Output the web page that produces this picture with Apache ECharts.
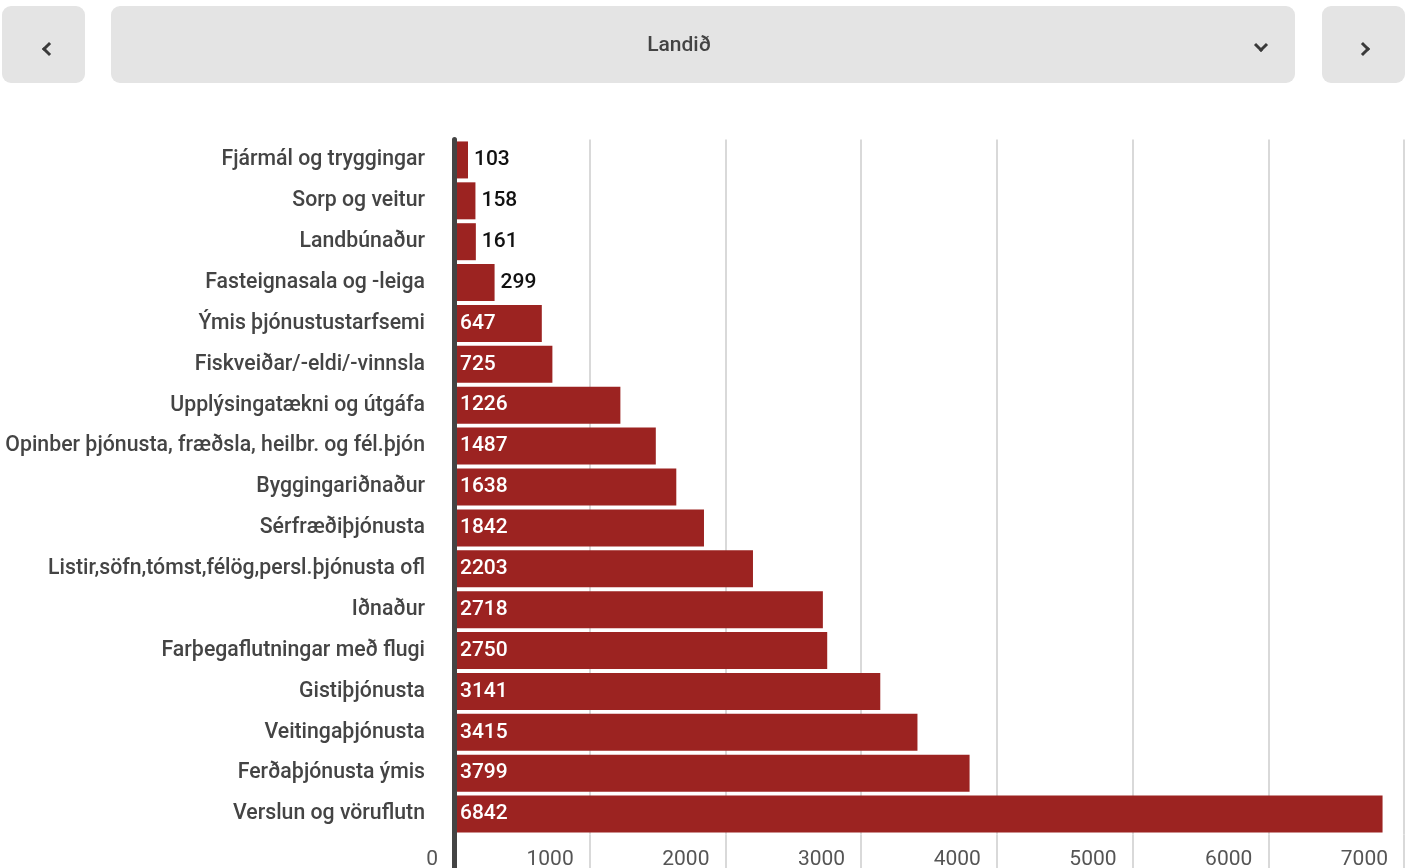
<!DOCTYPE html>
<html>
<head>
<meta charset="utf-8">
<script src="https://cdn.jsdelivr.net/npm/echarts@6/dist/echarts.min.js"></script>
<style>
html,body{margin:0;padding:0;background:#fff;width:1407px;height:868px;overflow:hidden;font-family:Roboto,"Noto Sans",sans-serif;}
#chart{position:absolute;left:0;top:0;width:1407px;height:868px;}
.btn{position:absolute;top:6px;height:77px;background:#e4e4e4;border-radius:9px;}
.chev{position:absolute;width:10px;height:10px;border-left:3px solid #3a3a3a;border-bottom:3px solid #3a3a3a;box-sizing:border-box;}
#title{position:absolute;left:0;width:1136px;top:26px;text-align:center;font-size:21px;font-weight:500;color:#444;}
</style>
</head>
<body>
<div id="chart"></div>
<div class="btn" style="left:2px;width:83px;"><div class="chev" style="left:41.5px;top:38px;transform:rotate(45deg);"></div></div>
<div class="btn" style="left:111px;width:1184px;"><div id="title">Landið</div><div class="chev" style="left:1144.5px;top:34px;transform:rotate(-45deg);"></div></div>
<div class="btn" style="left:1322px;width:83px;"><div class="chev" style="left:35.5px;top:38px;transform:rotate(-135deg);"></div></div>
<script>
const categories = [
  "Fjármál og tryggingar",
  "Sorp og veitur",
  "Landbúnaður",
  "Fasteignasala og -leiga",
  "Ýmis þjónustustarfsemi",
  "Fiskveiðar/-eldi/-vinnsla",
  "Upplýsingatækni og útgáfa",
  "Opinber þjónusta, fræðsla, heilbr. og fél.þjón",
  "Byggingariðnaður",
  "Sérfræðiþjónusta",
  "Listir,söfn,tómst,félög,persl.þjónusta ofl",
  "Iðnaður",
  "Farþegaflutningar með flugi",
  "Gistiþjónusta",
  "Veitingaþjónusta",
  "Ferðaþjónusta ýmis",
  "Verslun og vöruflutn"
];
const values = [103, 158, 161, 299, 647, 725, 1226, 1487, 1638, 1842, 2203, 2718, 2750, 3141, 3415, 3799, 6842];
const xTicks = { min: 0, max: 7000, interval: 1000 };

const barColor = '#9c2321';
const seriesData = values.map(v => ({
  value: v,
  label: v < 450
    ? { position: 'right', color: '#111', distance: 6 }
    : { position: 'insideLeft', color: '#fff', distance: 6 }
}));

const chart = echarts.init(document.getElementById('chart'));
chart.setOption({
  animation: false,
  grid: [
    { left: 454, right: 3, top: 139.5, height: 695, containLabel: false },
    { left: 454, right: 3, top: 834.5, bottom: 0, containLabel: false, outerBoundsMode: 'none' }
  ],
  xAxis: [
    {
      gridIndex: 0, type: 'value', min: xTicks.min, max: xTicks.max, interval: xTicks.interval,
      axisLine: { show: false }, axisTick: { show: false }, axisLabel: { show: false },
      splitLine: { show: true, lineStyle: { color: '#d9d9d9', width: 2 } }
    },
    {
      gridIndex: 1, type: 'value', min: xTicks.min, max: xTicks.max, interval: xTicks.interval,
      axisLine: { show: false }, axisTick: { show: false },
      axisLabel: {
        show: true, inside: true, margin: 19, align: 'right', verticalAlign: 'top', padding: [0, 16, 0, 0],
        formatter: v => String(v),
        fontFamily: 'Roboto', fontSize: 21, color: '#555', showMinLabel: true, showMaxLabel: true
      },
      splitLine: { show: true, lineStyle: { color: '#d9d9d9', width: 2 } }
    }
  ],
  yAxis: [
    {
      gridIndex: 0, type: 'category', data: categories, inverse: true, z: 5,
      axisLine: { show: true, lineStyle: { color: '#444', width: 5 } },
      axisTick: { show: false },
      axisLabel: { margin: 29, fontFamily: 'Roboto', fontSize: 21.25, fontWeight: 500, color: '#444' },
      splitLine: { show: false }
    },
    {
      gridIndex: 1, type: 'value', z: 5,
      axisLine: { show: true, lineStyle: { color: '#444', width: 5 } },
      axisTick: { show: false }, axisLabel: { show: false }, splitLine: { show: false }
    }
  ],
  series: [
    {
      type: 'bar', xAxisIndex: 0, yAxisIndex: 0,
      data: seriesData, barWidth: 37,
      itemStyle: { color: barColor },
      label: { show: true, fontFamily: 'Roboto', fontSize: 21, fontWeight: 500 }
    }
  ]
});
</script>
</body>
</html>
